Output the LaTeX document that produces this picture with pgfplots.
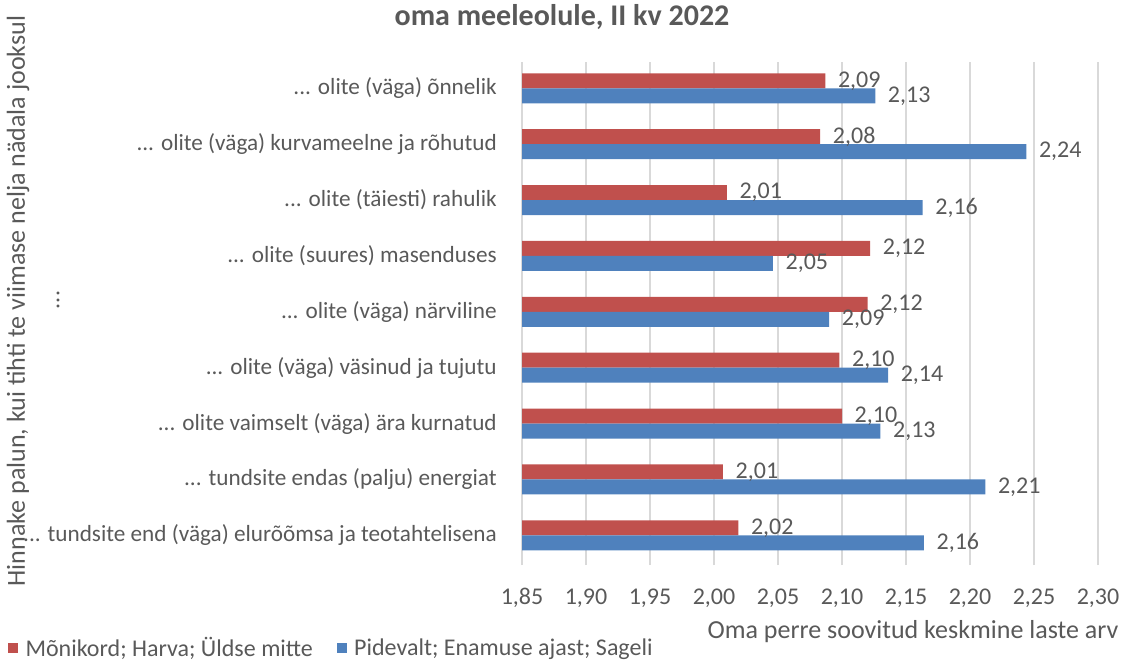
\documentclass[border=0pt]{standalone}
\usepackage{pgfplots}
\pgfplotsset{compat=1.18}
\usepackage{fontspec}
\setmainfont{Carlito}
\definecolor{redbar}{HTML}{C0504D}
\definecolor{bluebar}{HTML}{4F81BD}
\definecolor{txt}{HTML}{595959}
\definecolor{gridc}{HTML}{D9D9D9}
\newcommand\dd{.{}.{}.}
\begin{document}
\begin{tikzpicture}
\path[use as bounding box] (0,0) rectangle (843pt,495.75pt);
\begin{axis}[
  at={(391.5pt,72pt)}, anchor=south west,
  scale only axis, width=432pt, height=377.25pt,
  xbar, bar width=11.25pt,
  xmin=1.85, xmax=2.30, ymin=-0.53, ymax=8.47,
  xtick={1.85,1.90,1.95,2.00,2.05,2.10,2.15,2.20,2.25,2.30},
  ytick={0,1,2,3,4,5,6,7,8},
  yticklabels={{\dd{} tundsite end (väga) elurõõmsa ja teotahtelisena},
    {\dd{} tundsite endas (palju) energiat},
    {\dd{} olite vaimselt (väga) ära kurnatud},
    {\dd{} olite (väga) väsinud ja tujutu},
    {\dd{} olite (väga) närviline},
    {\dd{} olite (suures) masenduses},
    {\dd{} olite (täiesti) rahulik},
    {\dd{} olite (väga) kurvameelne ja rõhutud},
    {\dd{} olite (väga) õnnelik}},
  axis line style={draw=none},
  major tick length=0pt,
  xmajorgrids, grid style={gridc, line width=0.9pt},
  /pgf/number format/assume math mode=true,
  /pgf/number format/.cd, fixed, fixed zerofill, precision=2, use comma, /pgfplots/.cd,
  tick label style={font=\fontsize{18}{20}\selectfont, text=txt, inner sep=0pt},
  x tick label style={anchor=center, yshift=-24.75pt},
  y tick label style={anchor=east, xshift=-18.75pt, font=\fontsize{17.4}{20}\selectfont},
  point meta=x,
  nodes near coords,
  nodes near coords style={anchor=west, font=\fontsize{18}{20}\selectfont, text=txt, xshift=6pt},
  legend style={at={(axis description cs:-0.8924,-0.165)}, anchor=west, draw=none, fill=none,
    inner sep=0pt, font=\fontsize{18}{20}\selectfont, text=txt,
    /tikz/every even column/.append style={column sep=16pt}},
  legend columns=2,
  legend image code/.code={\fill[#1] (0pt,-3.75pt) rectangle (7.5pt,3.75pt); \path (11pt,0pt);},
]
\addplot[fill=redbar, draw=none, bar shift=5.625pt] coordinates {
  (2.019,0) (2.007,1) (2.100,2) (2.098,3) (2.120,4) (2.122,5) (2.010,6) (2.083,7) (2.087,8)};
\addplot[fill=bluebar, draw=none, bar shift=-5.625pt] coordinates {
  (2.164,0) (2.212,1) (2.130,2) (2.136,3) (2.090,4) (2.046,5) (2.163,6) (2.244,7) (2.126,8)};
\legend{Mõnikord; Harva; Üldse mitte, Pidevalt; Enamuse ajast; Sageli}
\end{axis}
\node[font=\bfseries\fontsize{22.5}{26}\selectfont, text=txt] at (421.5pt,483pt) {oma meeleolule, II kv 2022};
\node[rotate=90, font=\fontsize{19.5}{22}\selectfont, text=txt] at (13.5pt,270pt) {Hinnake palun, kui tihti te viimase nelja nädala jooksul};
\node[rotate=90, font=\fontsize{18}{20}\selectfont, text=txt] at (43.5pt,270.75pt) {\dd};
\node[anchor=east, font=\fontsize{19.5}{22}\selectfont, text=txt, inner sep=0pt] at (839pt,21.75pt) {Oma perre soovitud keskmine laste arv};
\end{tikzpicture}
\end{document}
